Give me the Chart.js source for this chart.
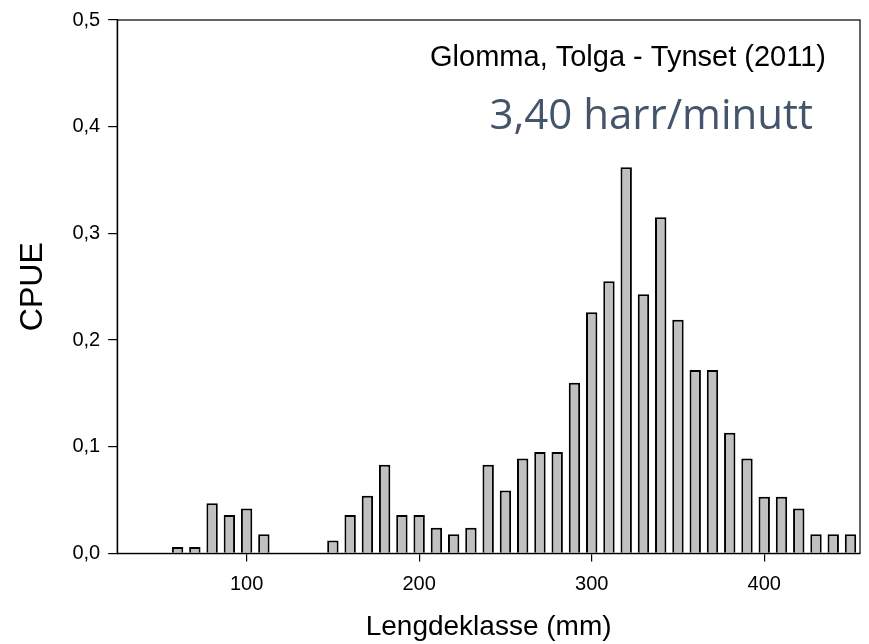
<!DOCTYPE html>
<html>
<head>
<meta charset="utf-8">
<script src="https://cdn.jsdelivr.net/npm/chart.js@4.4.1/dist/chart.umd.min.js"></script>
<style>
  html, body { margin: 0; padding: 0; background: #fff; }
  #wrap { width: 869px; height: 644px; }
</style>
</head>
<body>
<div id="wrap"><canvas id="chart"></canvas></div>
<script>
// length classes (mm) and catch per unit effort
const lengths = [60,70,80,90,100,110,120,130,140,150,160,170,180,190,200,210,220,230,240,250,
                 260,270,280,290,300,310,320,330,340,350,360,370,380,390,400,410,420,430,440,450];
const cpue = [0.006,0.006,0.047,0.036,0.042,0.018,null,null,null,0.012,0.036,0.054,0.083,0.036,0.036,0.024,0.018,0.024,0.083,0.059,
              0.089,0.095,0.095,0.160,0.226,0.255,0.362,0.243,0.315,0.219,0.172,0.172,0.113,0.089,0.053,0.053,0.042,0.018,0.018,0.018];
const xTicks = [100,200,300,400];
const yTicks = [0,0.1,0.2,0.3,0.4,0.5];

const titleText = 'Glomma, Tolga - Tynset (2011)';
const rateText = '3,40 harr/minutt';

// frame + texts inside plot area
const frameAndText = {
  id: 'frameAndText',
  afterDraw(chart) {
    const {ctx, chartArea: a} = chart;
    ctx.save();
    ctx.strokeStyle = '#000';
    ctx.lineWidth = 1.2;
    ctx.strokeRect(a.left, a.top, a.right - a.left, a.bottom - a.top);
    ctx.textAlign = 'right';
    ctx.textBaseline = 'alphabetic';
    ctx.fillStyle = '#000';
    ctx.font = '29px "Liberation Sans", Arial, sans-serif';
    ctx.fillText(titleText, a.right - 34, a.top + 46);
    ctx.fillStyle = '#44546A';
    ctx.font = '42px "Open Sans", sans-serif';
    ctx.fillText(rateText, a.right - 47, a.top + 108.5);
    ctx.restore();
  }
};

const ctx = document.getElementById('chart').getContext('2d');
new Chart(ctx, {
  type: 'bar',
  data: {
    datasets: [{
      data: lengths.map((x, i) => ({x: x, y: cpue[i]})),
      backgroundColor: '#C0C0C0',
      borderColor: '#000',
      borderWidth: 2,
      barPercentage: 0.66,
      categoryPercentage: 1
    }]
  },
  options: {
    responsive: true,
    maintainAspectRatio: false,
    animation: false,
    layout: { padding: { left: 10, right: 9, top: 8, bottom: 0 } },
    scales: {
      x: {
        type: 'linear',
        min: 25, max: 455.5,
        offset: false,
        afterBuildTicks: axis => { axis.ticks = xTicks.map(v => ({value: v})); },
        ticks: { color: '#000', font: { family: '"Liberation Sans", Arial', size: 20 }, padding: 11, maxRotation: 0 },
        grid: { display: true, offset: false, drawOnChartArea: false, drawTicks: true, tickLength: 8, color: '#000', lineWidth: 1.2 },
        border: { display: true, color: '#000', width: 1.2 },
        title: { display: true, text: 'Lengdeklasse (mm)', color: '#000',
                 font: { family: '"Liberation Sans", Arial', size: 28 }, padding: { top: 3, bottom: 0 } }
      },
      y: {
        min: 0, max: 0.5,
        afterBuildTicks: axis => { axis.ticks = yTicks.map(v => ({value: v})); },
        ticks: { color: '#000', font: { family: '"Liberation Sans", Arial', size: 20 }, padding: 8,
                 callback: v => v.toFixed(1).replace('.', ',') },
        grid: { display: true, drawOnChartArea: false, drawTicks: true, tickLength: 9, color: '#000', lineWidth: 1.2 },
        border: { display: true, color: '#000', width: 1.2 },
        title: { display: true, text: 'CPUE', color: '#000',
                 font: { family: '"Liberation Sans", Arial', size: 32 }, padding: { top: 4, bottom: 12 } }
      }
    },
    plugins: { legend: { display: false }, tooltip: { enabled: false } }
  },
  plugins: [frameAndText]
});
</script>
</body>
</html>
